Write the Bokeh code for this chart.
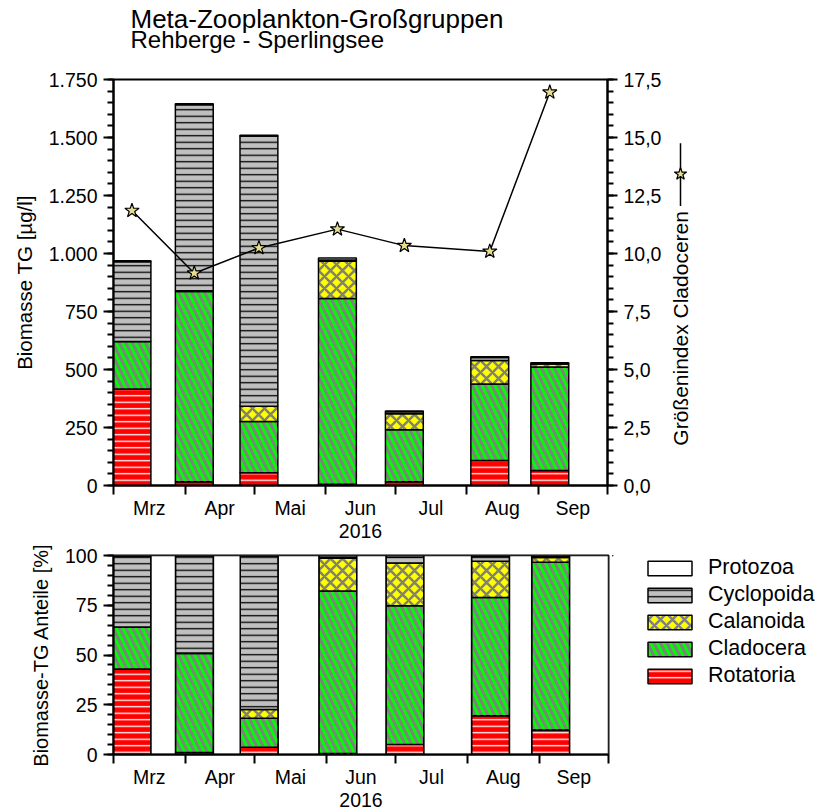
import numpy as np
import pandas as pd
from math import pi
from bokeh.plotting import figure
from bokeh.models import Range1d, LinearAxis, FixedTicker, Label, Legend, LegendItem
from bokeh.layouts import column, row
from bokeh.embed import file_html
from bokeh.resources import INLINE

# ---------------- data ----------------
dates = ["2016-03-09", "2016-04-05", "2016-05-03", "2016-06-06",
         "2016-07-05", "2016-08-11", "2016-09-06"]
month_starts = ["2016-03-01", "2016-04-01", "2016-05-01", "2016-06-01",
                "2016-07-01", "2016-08-01", "2016-09-01", "2016-10-01"]
month_names = ["Mrz", "Apr", "Mai", "Jun", "Jul", "Aug", "Sep"]

rotatoria = [416, 16, 55, 5, 16, 108, 65]
cladocera = [205, 820, 221, 801, 224, 330, 446]
calanoida = [0, 3, 66, 161, 69, 101, 13]
cyclopoida = [343, 802, 1165, 5, 9, 13, 2]
protozoa = [5, 5, 3, 9, 3, 3, 3]
groessenindex = [11.85, 9.15, 10.24, 11.05, 10.34, 10.09, 16.95]

left_ticks = [0, 250, 500, 750, 1000, 1250, 1500, 1750]
left_tick_labels = ["0", "250", "500", "750", "1.000", "1.250", "1.500", "1.750"]
right_ticks = [0, 2.5, 5, 7.5, 10, 12.5, 15, 17.5]
right_tick_labels = ["0,0", "2,5", "5,0", "7,5", "10,0", "12,5", "15,0", "17,5"]
pct_ticks = [0, 25, 50, 75, 100]
pct_tick_labels = ["0", "25", "50", "75", "100"]

# ---------------- derived ----------------
X0 = pd.Timestamp(month_starts[0])
def to_days(lst):
    return np.array([(pd.Timestamp(d) - X0).days for d in lst], dtype=float)

xd = to_days(dates)
ms = to_days(month_starts)
mids = [float((a + b) / 2) for a, b in zip(ms[:-1], ms[1:])]
XMAX = float(ms[-1])
BAR_W = 16.4

abs_vals = {
    "Rotatoria": np.array(rotatoria, float),
    "Cladocera": np.array(cladocera, float),
    "Calanoida": np.array(calanoida, float),
    "Cyclopoida": np.array(cyclopoida, float),
    "Protozoa": np.array(protozoa, float),
}
total = sum(abs_vals.values())
pct_vals = {k: v / total * 100 for k, v in abs_vals.items()}

STAR_FILL = "#E6DE8E"
styles = {
    "Rotatoria": dict(fill_color="#FF0000", hatch_pattern="-", hatch_color="white", hatch_scale=6.5, hatch_weight=1.3),
    "Cladocera": dict(fill_color="#00FF00", hatch_pattern="\\", hatch_color="#808080", hatch_scale=13, hatch_weight=3),
    "Calanoida": dict(fill_color="#FFFF00", hatch_pattern="x", hatch_color="#808080", hatch_scale=12, hatch_weight=2.5),
    "Cyclopoida": dict(fill_color="#C0C0C0", hatch_pattern="-", hatch_color="black", hatch_scale=6.5, hatch_weight=1.3),
    "Protozoa": dict(fill_color="white"),
}
order = ["Rotatoria", "Cladocera", "Calanoida", "Cyclopoida", "Protozoa"]

FONT = "Liberation Sans"


def stack(p, vals):
    bottom = np.zeros(len(xd))
    rs = {}
    for name in order:
        top = bottom + vals[name]
        rs[name] = p.vbar(x=xd, width=BAR_W, bottom=bottom, top=top,
                          line_color="black", line_width=1.5, **styles[name])
        bottom = top
    return rs


def style_axis(ax, size="19.5px", label_size="20.5px"):
    ax.axis_line_width = 2
    ax.axis_line_color = "black"
    ax.major_label_text_font = FONT
    ax.major_label_text_font_size = size
    ax.major_label_text_color = "black"
    ax.axis_label_text_font = FONT
    ax.axis_label_text_font_size = label_size
    ax.axis_label_text_font_style = "normal"
    ax.axis_label_text_color = "black"


def style_xaxis(ax):
    style_axis(ax, label_size="19.5px")
    ax.ticker = FixedTicker(ticks=mids, minor_ticks=list(map(float, ms)))
    ax.major_label_overrides = {m: n for m, n in zip(mids, month_names)}
    ax.major_tick_line_color = None
    ax.major_tick_out = 8
    ax.major_tick_in = 0
    ax.minor_tick_out = 9
    ax.minor_tick_in = 0
    ax.minor_tick_line_width = 2
    ax.minor_tick_line_color = "black"
    ax.major_label_standoff = 2
    ax.axis_label = "2016"
    ax.axis_label_standoff = 2


def style_yaxis(ax, ticks, labels, minor_step, label_size="20.5px"):
    style_axis(ax, label_size=label_size)
    minors = list(np.arange(ticks[0], ticks[-1] + 1e-9, minor_step))
    ax.ticker = FixedTicker(ticks=ticks, minor_ticks=minors)
    ax.major_label_overrides = {t: l for t, l in zip(ticks, labels)}
    ax.major_tick_out = 10
    ax.major_tick_in = 0
    ax.major_tick_line_width = 2
    ax.minor_tick_out = 6
    ax.minor_tick_in = 0
    ax.minor_tick_line_width = 2
    ax.major_label_standoff = 6


def blank(width, height, xr, yr, **borders):
    f = figure(width=width, height=height, x_range=Range1d(*xr), y_range=Range1d(*yr),
               output_backend="svg", toolbar_location=None, x_axis_location=None,
               y_axis_location=None, title=None, **borders)
    f.grid.visible = False
    f.outline_line_color = None
    return f


# ---------------- header (page-pixel coordinates) ----------------
hdr = blank(817, 60, (113, 607), (60, 0), min_border_left=113, min_border_right=210,
            min_border_top=0, min_border_bottom=0)
hdr.add_layout(Label(x=130, y=18, text="Meta-Zooplankton-Großgruppen",
                     text_font=FONT, text_font_size="26px", text_color="black",
                     text_align="left", text_baseline="alphabetic"))
hdr.add_layout(Label(x=130, y=39, text="Rehberge - Sperlingsee",
                     text_font=FONT, text_font_size="24px", text_color="black",
                     text_align="left", text_baseline="alphabetic"))

# ---------------- top figure ----------------
p1 = figure(width=667, height=480, x_range=Range1d(0, XMAX), y_range=Range1d(0, 1750),
            output_backend="svg", toolbar_location=None,
            min_border_left=113, min_border_right=60, min_border_top=19, min_border_bottom=53)
p1.extra_y_ranges = {"idx": Range1d(0, 17.5)}
p1.grid.visible = False
p1.outline_line_color = "black"
p1.outline_line_width = 2

stack(p1, abs_vals)
p1.line(xd, groessenindex, y_range_name="idx", line_color="black", line_width=1.5)
p1.scatter(xd, groessenindex, y_range_name="idx", marker="star", size=15,
           fill_color=STAR_FILL, line_color="black", line_width=1.2)

style_xaxis(p1.xaxis[0])
style_yaxis(p1.yaxis[0], left_ticks, left_tick_labels, 50)
p1.yaxis[0].axis_label = "Biomasse TG [µg/l]"
p1.yaxis[0].axis_label_standoff = 10

rax = LinearAxis(y_range_name="idx")
style_yaxis(rax, right_ticks, right_tick_labels, 0.5)
p1.add_layout(rax, "right")

# right-hand side: rotated axis title with its line/star key (page-pixel coordinates)
s1 = blank(150, 480, (667, 817), (487, 79), min_border_left=0, min_border_right=0,
           min_border_top=19, min_border_bottom=53)
s1.add_layout(Label(x=680, y=447, text="Größenindex Cladoceren", angle=pi / 2,
                    text_font=FONT, text_font_size="21px", text_color="black",
                    text_align="left", text_baseline="middle"))
s1.line(x=[680, 680], y=[206, 143], line_color="black", line_width=1.5)
s1.scatter(x=[680], y=[174], marker="star", size=13, fill_color=STAR_FILL,
           line_color="black", line_width=1.2)

# ---------------- bottom figure ----------------
p2 = figure(width=612, height=269, x_range=Range1d(0, XMAX), y_range=Range1d(0, 100),
            output_backend="svg", toolbar_location=None,
            min_border_left=113, min_border_right=4, min_border_top=15, min_border_bottom=50)
p2.grid.visible = False
p2.outline_line_color = "black"
p2.outline_line_width = 2

rs = stack(p2, pct_vals)
# white blocks filling the gaps between sampling bars
lefts = xd - BAR_W / 2
rights = xd + BAR_W / 2
gap_l = list(rights)
gap_r = list(lefts[1:]) + [XMAX]
p2.quad(left=gap_l, right=gap_r, bottom=0, top=100, fill_color="white",
        line_color="black", line_width=1.5)

style_xaxis(p2.xaxis[0])
style_yaxis(p2.yaxis[0], pct_ticks, pct_tick_labels, 5, label_size="20px")
p2.yaxis[0].axis_label = "Biomasse-TG Anteile [%]"
p2.yaxis[0].axis_label_standoff = 10

# legend panel (page-pixel coordinates); proxies sit far outside the visible range
s2 = blank(205, 269, (612, 817), (759, 555), min_border_left=0, min_border_right=0,
           min_border_top=15, min_border_bottom=50)
items = []
for name in reversed(order):
    r = s2.vbar(x=[-5000], top=[-4000], bottom=[-4100], width=1, line_color="black",
                line_width=1.5, **styles[name])
    items.append(LegendItem(label=name, renderers=[r]))
legend = Legend(items=items, location=(30, 66), orientation="vertical",
                label_text_font=FONT, label_text_font_size="21.5px", label_text_color="black",
                glyph_width=55, glyph_height=18, spacing=2, padding=0, margin=0,
                label_standoff=11, label_height=18,
                border_line_color=None, background_fill_alpha=0)
s2.add_layout(legend)

layout = column(hdr, row(p1, s1, spacing=0), row(p2, s2, spacing=0), spacing=0)
open("out.html", "w").write(file_html(layout, INLINE))
